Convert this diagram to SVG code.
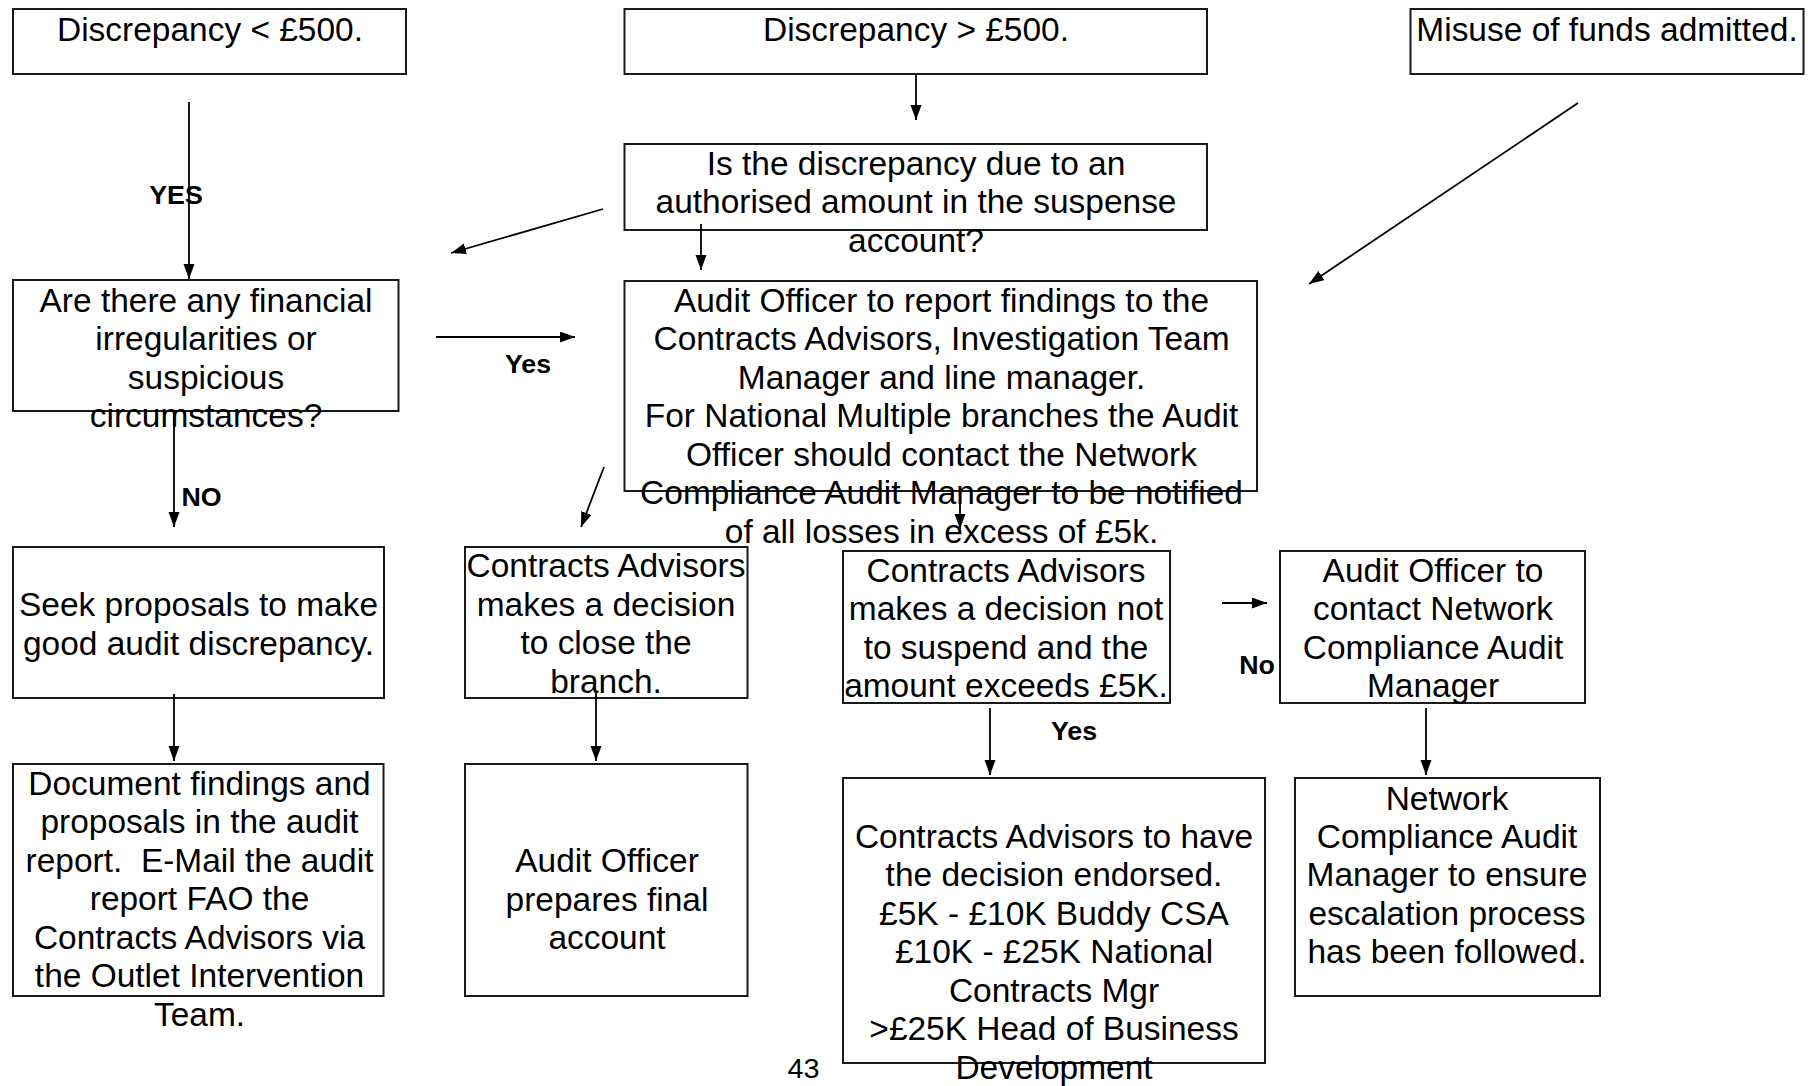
<svg xmlns="http://www.w3.org/2000/svg" width="1808" height="1086" viewBox="0 0 1808 1086">
<style>
.t{font-family:"Liberation Sans",Arial,sans-serif;font-size:32.5px;fill:#000;text-anchor:middle}
.b{font-family:"Liberation Sans",Arial,sans-serif;font-size:26px;font-weight:bold;fill:#000;text-anchor:middle}
.box{fill:none;stroke:#1a1a1a;stroke-width:2}
.c{fill:none;stroke:#000;stroke-width:1.8;marker-end:url(#ah)}
</style>
<defs>
<marker id="ah" markerUnits="userSpaceOnUse" markerWidth="16" markerHeight="12" refX="15" refY="5.5" orient="auto">
<path d="M0,0 L15,5.5 L0,11 z" fill="#000"/>
</marker>
</defs>
<rect width="1808" height="1086" fill="#fff"/>

<g id="n-lt500">
<rect class="box" x="13" y="9" width="393" height="65"/>
<g transform="translate(210,0) scale(1.03,1)"><text class="t" x="0" y="41">Discrepancy &lt; £500.</text></g>
</g>

<g id="n-gt500">
<rect class="box" x="624.5" y="9" width="582.5" height="65"/>
<g transform="translate(916,0) scale(1.03,1)"><text class="t" x="0" y="41">Discrepancy &gt; £500.</text></g>
</g>

<g id="n-misuse">
<rect class="box" x="1410.5" y="9" width="393" height="65"/>
<g transform="translate(1607,0) scale(1.03,1)"><text class="t" x="0" y="41">Misuse of funds admitted.</text></g>
</g>

<g id="n-suspense">
<rect class="box" x="624.5" y="144" width="582.5" height="86"/>
<g transform="translate(916,0) scale(1.03,1)"><text class="t"><tspan x="0" y="175">Is the discrepancy due to an</tspan><tspan x="0" y="213.5">authorised amount in the suspense</tspan><tspan x="0" y="252">account?</tspan></text></g>
</g>

<g id="n-irregular">
<rect class="box" x="13" y="280" width="385.5" height="131"/>
<g transform="translate(206,0) scale(1.03,1)"><text class="t"><tspan x="0" y="312">Are there any financial</tspan><tspan x="0" y="350.5">irregularities or</tspan><tspan x="0" y="389">suspicious</tspan><tspan x="0" y="427.5">circumstances?</tspan></text></g>
</g>

<g id="n-report">
<rect class="box" x="624.5" y="281" width="632.5" height="210"/>
<g transform="translate(941.5,0) scale(1.03,1)"><text class="t"><tspan x="0" y="312">Audit Officer to report findings to the</tspan><tspan x="0" y="350.5">Contracts Advisors, Investigation Team</tspan><tspan x="0" y="389">Manager and line manager.</tspan><tspan x="0" y="427.5">For National Multiple branches the Audit</tspan><tspan x="0" y="466">Officer should contact the Network</tspan><tspan x="0" y="504.5">Compliance Audit Manager to be notified</tspan><tspan x="0" y="543">of all losses in excess of £5k.</tspan></text></g>
</g>

<g id="n-seek">
<rect class="box" x="13" y="547" width="371" height="151"/>
<g transform="translate(198.5,0) scale(1.03,1)"><text class="t"><tspan x="0" y="616.5">Seek proposals to make</tspan><tspan x="0" y="655">good audit discrepancy.</tspan></text></g>
</g>

<g id="n-close">
<rect class="box" x="465" y="547" width="282.5" height="151"/>
<g transform="translate(606,0) scale(1.03,1)"><text class="t"><tspan x="0" y="577.5">Contracts Advisors</tspan><tspan x="0" y="616">makes a decision</tspan><tspan x="0" y="654.5">to close the</tspan><tspan x="0" y="693">branch.</tspan></text></g>
</g>

<g id="n-notsuspend">
<rect class="box" x="843" y="551" width="327" height="152"/>
<g transform="translate(1006,0) scale(1.03,1)"><text class="t"><tspan x="0" y="582">Contracts Advisors</tspan><tspan x="0" y="620.5">makes a decision not</tspan><tspan x="0" y="659">to suspend and the</tspan><tspan x="0" y="697.5">amount exceeds £5K.</tspan></text></g>
</g>

<g id="n-contactncam">
<rect class="box" x="1280" y="551" width="305" height="152"/>
<g transform="translate(1433,0) scale(1.03,1)"><text class="t"><tspan x="0" y="582">Audit Officer to</tspan><tspan x="0" y="620.5">contact Network</tspan><tspan x="0" y="659">Compliance Audit</tspan><tspan x="0" y="697.5">Manager</tspan></text></g>
</g>

<g id="n-document">
<rect class="box" x="13" y="764" width="370.5" height="232"/>
<g transform="translate(199.5,0) scale(1.03,1)"><text class="t" style="white-space:pre"><tspan x="0" y="795">Document findings and</tspan><tspan x="0" y="833.5">proposals in the audit</tspan><tspan x="0" y="872">report.  E-Mail the audit</tspan><tspan x="0" y="910.5">report FAO the</tspan><tspan x="0" y="949">Contracts Advisors via</tspan><tspan x="0" y="987.5">the Outlet Intervention</tspan><tspan x="0" y="1026">Team.</tspan></text></g>
</g>

<g id="n-final">
<rect class="box" x="465" y="764" width="282.5" height="232"/>
<g transform="translate(607,0) scale(1.03,1)"><text class="t"><tspan x="0" y="872.5">Audit Officer</tspan><tspan x="0" y="911">prepares final</tspan><tspan x="0" y="949.5">account</tspan></text></g>
</g>

<g id="n-endorse">
<rect class="box" x="843" y="778" width="422" height="285"/>
<g transform="translate(1054,0) scale(1.03,1)"><text class="t"><tspan x="0" y="848">Contracts Advisors to have</tspan><tspan x="0" y="886.5">the decision endorsed.</tspan><tspan x="0" y="925">£5K - £10K Buddy CSA</tspan><tspan x="0" y="963.5">£10K - £25K National</tspan><tspan x="0" y="1002">Contracts Mgr</tspan><tspan x="0" y="1040.5">&gt;£25K Head of Business</tspan><tspan x="0" y="1079">Development</tspan></text></g>
</g>

<g id="n-ensure">
<rect class="box" x="1295" y="778" width="305" height="218"/>
<g transform="translate(1447,0) scale(1.03,1)"><text class="t"><tspan x="0" y="810">Network</tspan><tspan x="0" y="848">Compliance Audit</tspan><tspan x="0" y="886.5">Manager to ensure</tspan><tspan x="0" y="925">escalation process</tspan><tspan x="0" y="963.5">has been followed.</tspan></text></g>
</g>

<g id="page-number">
<g transform="translate(803.5,0) scale(1.03,1)"><text class="t" style="font-size:28px" x="0" y="1078">43</text></g>
</g>

<g id="connectors">
<line class="c" x1="189" y1="102" x2="189" y2="279"/>
<line class="c" x1="916" y1="74" x2="916" y2="120"/>
<line class="c" x1="603" y1="209" x2="451" y2="253"/>
<line class="c" x1="701" y1="224" x2="701" y2="270"/>
<line class="c" x1="1578" y1="103" x2="1309" y2="284"/>
<line class="c" x1="436" y1="337" x2="575" y2="337"/>
<line class="c" x1="174" y1="411" x2="174" y2="527"/>
<line class="c" x1="604" y1="467" x2="581" y2="527"/>
<line class="c" x1="960" y1="491" x2="960" y2="529"/>
<line class="c" x1="174" y1="694" x2="174" y2="761"/>
<line class="c" x1="596" y1="690" x2="596" y2="761"/>
<line class="c" x1="1222" y1="603" x2="1267" y2="603"/>
<line class="c" x1="990" y1="708" x2="990" y2="775"/>
<line class="c" x1="1426" y1="708" x2="1426" y2="775"/>
<g transform="translate(176,0) scale(1.03,1)"><text class="b" x="0" y="204">YES</text></g>
<g transform="translate(528,0) scale(1.03,1)"><text class="b" x="0" y="373">Yes</text></g>
<g transform="translate(201.5,0) scale(1.03,1)"><text class="b" x="0" y="506">NO</text></g>
<g transform="translate(1257,0) scale(1.03,1)"><text class="b" x="0" y="674">No</text></g>
<g transform="translate(1074,0) scale(1.03,1)"><text class="b" x="0" y="740">Yes</text></g>
</g>
</svg>
